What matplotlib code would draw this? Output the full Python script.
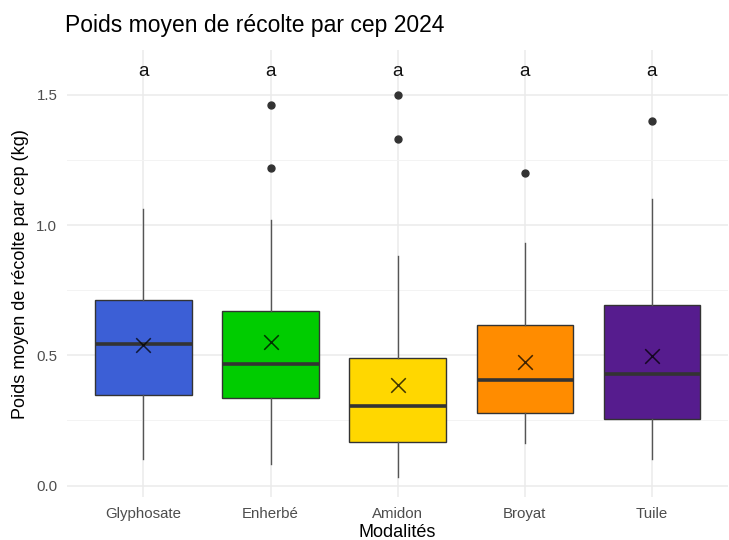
import matplotlib.pyplot as plt

plt.rcParams['font.family'] = ['Liberation Sans', 'DejaVu Sans']

modalites = ["Glyphosate", "Enherbé", "Amidon", "Broyat", "Tuile"]
couleurs = ["#3c5fd6", "#00cc00", "#ffd700", "#ff8c00", "#561c8e"]

# stats (kg)
q1 = [0.348, 0.337, 0.168, 0.279, 0.256]
mediane = [0.543, 0.467, 0.306, 0.406, 0.429]
q3 = [0.712, 0.670, 0.490, 0.616, 0.693]
moustache_bas = [0.10, 0.084, 0.034, 0.165, 0.10]
moustache_haut = [1.06, 1.02, 0.88, 0.93, 1.10]
moyenne = [0.54, 0.551, 0.387, 0.475, 0.498]
aberrants = [[], [1.46, 1.22], [1.50, 1.33], [1.20], [1.40]]
lettres = ["a", "a", "a", "a", "a"]
y_lettres = 1.59

stats = []
for i, m in enumerate(modalites):
    stats.append({"label": m, "q1": q1[i], "med": mediane[i], "q3": q3[i],
                  "whislo": moustache_bas[i], "whishi": moustache_haut[i],
                  "fliers": aberrants[i]})

fig = plt.figure(figsize=(7.29, 5.4), dpi=100)
ax = fig.add_axes([0.092, 0.0796, 0.907, 0.827])

pos = list(range(1, len(modalites) + 1))
bp = ax.bxp(stats, positions=pos, widths=0.76, patch_artist=True, showcaps=False,
            boxprops=dict(edgecolor="#333333", linewidth=1.0),
            medianprops=dict(color="#333333", linewidth=2.6, solid_capstyle="butt"),
            whiskerprops=dict(color="#555555", linewidth=1.0),
            flierprops=dict(marker="o", markerfacecolor="#333333", markeredgecolor="#333333",
                            markersize=5))
for patch, c in zip(bp["boxes"], couleurs):
    patch.set_facecolor(c)

ax.scatter(pos, moyenne, marker="x", s=110, color="black", alpha=0.75, linewidths=1.1, zorder=5)

for p, l in zip(pos, lettres):
    ax.text(p, y_lettres, l, ha="center", va="center", fontsize=13.5, color="#111111")

ax.set_xlim(0.4, 5.6)
ax.set_ylim(-0.044, 1.67)
ax.set_xticks(pos)
ax.set_xticklabels(modalites)
ax.set_yticks([0.0, 0.5, 1.0, 1.5])
ax.set_yticklabels(["0.0", "0.5", "1.0", "1.5"])
ax.set_yticks([0.25, 0.75, 1.25], minor=True)

ax.grid(True, which="major", color="#ebebeb", linewidth=1.1)
ax.grid(True, which="minor", axis="y", color="#f3f3f3", linewidth=0.7)
ax.set_axisbelow(True)
for s in ax.spines.values():
    s.set_visible(False)
ax.tick_params(which="both", length=0, labelsize=10.8, labelcolor="#4d4d4d", pad=7)

ax.set_xlabel("Modalités", fontsize=13, labelpad=2)
ax.set_ylabel("Poids moyen de récolte par cep (kg)", fontsize=13, labelpad=5)
fig.text(0.089, 0.953, "Poids moyen de récolte par cep 2024", fontsize=16.5, ha="left", va="center")

fig.savefig("out.png", dpi=100)
